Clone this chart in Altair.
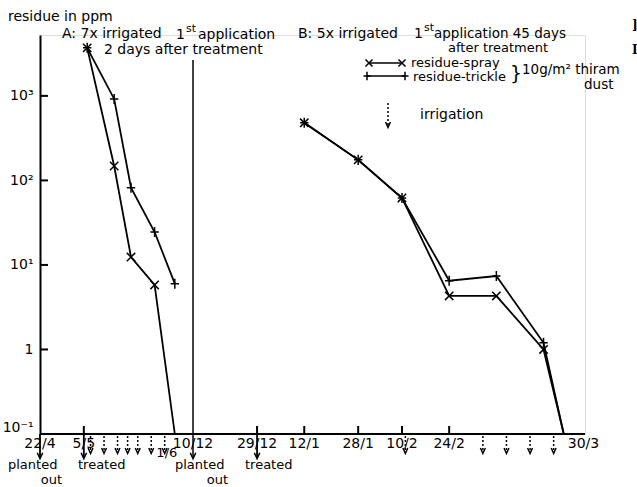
import altair as alt
import pandas as pd
from datetime import date

FONT = "DejaVu Sans"

# ---- data ----
a_dates = ["6/5", "14/5", "19/5", "26/5", "1/6"]
a_spray = [3700, 148, 12.4, 5.8, 0.1]
a_trickle = [3700, 920, 82, 24.5, 6.0]

b_dates = ["12/1", "28/1", "10/2", "24/2", "10/3", "24/3", "30/3"]
b_spray = [480, 175, 62, 4.3, 4.3, 1.0, 0.1]
b_trickle = [480, 175, 62, 6.5, 7.4, 1.2, 0.1]

a_irrigation = ["7/5", "11/5", "15/5", "18/5", "21/5", "25/5", "29/5"]
b_irrigation = ["11/2", "6/3", "13/3", "20/3", "27/3"]

a_tick_labels = ["22/4", "5/5", "1/6"]
b_tick_labels = ["10/12", "29/12", "12/1", "28/1", "10/2", "24/2", "30/3"]

y_tick_values = [0.1, 1, 10, 100, 1000]

GAP = 45.4      # axis position (days) of the break at 10/12
X_MAX = 161.7   # right end of the time axis in days
Y_MIN, Y_MAX = 0.1, 5250


def day_a(s):
    d, m = (int(v) for v in s.split("/"))
    return (date(1980, m, d) - date(1980, 4, 22)).days


def day_b(s):
    d, m = (int(v) for v in s.split("/"))
    y = 1980 if m == 12 else 1981
    return GAP + (date(y, m, d) - date(1980, 12, 10)).days


rows = []
for dates, vals, ser, panel, fn in [
    (a_dates, a_spray, "spray", "A", day_a),
    (a_dates, a_trickle, "trickle", "A", day_a),
    (b_dates, b_spray, "spray", "B", day_b),
    (b_dates, b_trickle, "trickle", "B", day_b),
]:
    for i, (d, v) in enumerate(zip(dates, vals)):
        rows.append({"day": fn(d), "val": v, "series": ser, "grp": panel + ser, "i": i})
df = pd.DataFrame(rows)
df_pts = df[df["val"] > 0.1]

irr = pd.DataFrame({"day": [day_a(d) for d in a_irrigation] + [day_b(d) for d in b_irrigation]})
ticks = pd.DataFrame({
    "day": [day_a(d) for d in a_tick_labels] + [day_b(d) for d in b_tick_labels],
    "label": a_tick_labels + b_tick_labels,
})

X = alt.X("day:Q", scale=alt.Scale(domain=[0, X_MAX], nice=False, zero=False), axis=None)
PATH_X = "M-1,-1L1,1M1,-1L-1,1"
PATH_PLUS = "M-1,0L1,0M0,-1.2L0,1.2"
PATH_HEAD = "M-1,-1.2L0,1L1,-1.2"
SHAPE_SCALE = alt.Scale(domain=["spray", "trickle"], range=[PATH_X, PATH_PLUS])

yaxis = alt.Axis(
    values=y_tick_values, tickSize=0, grid=False, title=None,
    domainColor="black", domainWidth=2, labelColor="black",
    labelFont=FONT, labelFontSize=14, labelPadding=7, labelFlush=True,
    labelExpr="datum.value >= 999 ? '10³' : datum.value >= 99 ? '10²' : datum.value >= 9 ? '10¹' : datum.value >= 0.9 ? '1' : '10⁻¹'",
)
Y = alt.Y("val:Q", scale=alt.Scale(type="log", domain=[Y_MIN, Y_MAX], nice=False), axis=yaxis)

lines = alt.Chart(df).mark_line(color="black", strokeWidth=1.8).encode(
    x=X, y=Y, detail="grp:N", order="i:Q"
)
points = alt.Chart(df_pts).mark_point(filled=False, color="black", strokeWidth=1.5, size=70, opacity=1).encode(
    x="day:Q", y="val:Q",
    shape=alt.Shape("series:N", scale=SHAPE_SCALE, legend=None),
)

# inward y ticks
ytick_df = pd.DataFrame({"val": y_tick_values})
yticks = alt.Chart(ytick_df).mark_rule(color="black", strokeWidth=2).encode(
    y="val:Q", x=alt.value(0), x2=alt.value(8)
)

# x axis line
xline = alt.Chart(pd.DataFrame({"a": [0]})).mark_rule(color="black", strokeWidth=2).encode(
    x=alt.value(0), x2=alt.value(545), y=alt.value(399)
)

# x tick labels
lab_main = ticks[~ticks["label"].isin(["1/6", "30/3"])]
xlabels = alt.Chart(lab_main).mark_text(font=FONT, fontSize=14, baseline="alphabetic", color="black").encode(
    x="day:Q", y=alt.value(413), text="label:N"
)
lab_16 = alt.Chart(ticks[ticks["label"] == "1/6"]).mark_text(font=FONT, fontSize=13, baseline="alphabetic", color="black", dx=-8).encode(
    x="day:Q", y=alt.value(422), text="label:N"
)
lab_303 = alt.Chart(ticks[ticks["label"] == "30/3"]).mark_text(font=FONT, fontSize=14, baseline="alphabetic", align="left", color="black", dx=4).encode(
    x="day:Q", y=alt.value(413), text="label:N"
)

# up ticks
up_df = ticks[ticks["label"].isin(["12/1", "28/1", "10/2", "24/2", "5/5", "29/12"])]
upticks = alt.Chart(up_df).mark_rule(color="black", strokeWidth=2).encode(
    x="day:Q", y=alt.value(391), y2=alt.value(399)
)

# solid arrows (planted out / treated)
arr_df = ticks[ticks["label"].isin(["22/4", "5/5", "29/12"])]
arrows = alt.Chart(arr_df).mark_rule(color="black", strokeWidth=1.8).encode(
    x="day:Q", y=alt.value(399), y2=alt.value(422)
)
sep = alt.Chart(ticks[ticks["label"] == "10/12"]).mark_rule(color="black", strokeWidth=1.5).encode(
    x="day:Q", y=alt.value(25), y2=alt.value(422)
)
heads = alt.Chart(ticks[ticks["label"].isin(["22/4", "5/5", "10/12", "29/12"])]).mark_point(
    shape=PATH_HEAD, filled=False, color="black", strokeWidth=1.5, size=30, opacity=1
).encode(x="day:Q", y=alt.value(421))

# irrigation arrows
irr_lines = alt.Chart(irr).mark_rule(color="black", strokeWidth=1.5, strokeDash=[2, 2]).encode(
    x="day:Q", y=alt.value(401), y2=alt.value(416)
)
irr_heads = alt.Chart(irr).mark_point(shape=PATH_HEAD, filled=False, color="black", strokeWidth=1.5, size=24, opacity=1).encode(
    x="day:Q", y=alt.value(416)
)


def txt(s, x, y, size=14, align="left", font=FONT, weight="normal"):
    return alt.Chart(pd.DataFrame({"t": [s]})).mark_text(
        align=align, baseline="alphabetic", fontSize=size, font=font, fontWeight=weight, color="black"
    ).encode(text="t:N", x=alt.value(x - 40), y=alt.value(y - 35))


texts = [
    txt("residue in ppm", 8, 21),
    txt("A: 7x irrigated", 62, 38),
    txt("1", 176, 39),
    txt("st", 186, 32, size=11),
    txt("application", 198, 39),
    txt("2 days after treatment", 104, 54),
    txt("B: 5x irrigated", 298, 38),
    txt("1", 414, 38),
    txt("st", 424, 31, size=11),
    txt("application  45 days", 434, 38, size=13.5),
    txt("after treatment", 448, 52, size=13),
    txt("residue-spray", 411, 67, size=13),
    txt("residue-trickle", 413, 81, size=13),
    txt("}", 510, 80, size=19),
    txt("10g/m² thiram", 522, 74, size=13.5),
    txt("dust", 584, 89, size=13.5),
    txt("irrigation", 420, 119),
    txt("planted", 8, 469, size=13),
    txt("out", 62, 484, size=13, align="right"),
    txt("treated", 78, 469, size=13),
    txt("planted", 175, 469, size=13),
    txt("out", 228, 484, size=13, align="right"),
    txt("treated", 245, 469, size=13),
    txt("]", 632, 29, size=12, font="DejaVu Serif", weight="bold"),
    txt("I", 632, 54, size=12, font="DejaVu Serif", weight="bold"),
]

# legend glyphs (pixel positions relative to the plot area)
leg_lines = alt.Chart(pd.DataFrame({"s": ["spray", "trickle"], "x1": [329, 327], "x2": [362, 365], "y": [28, 41]})).mark_rule(
    color="black", strokeWidth=1.5
).encode(x=alt.X("x1:Q", scale=None), x2="x2:Q", y=alt.Y("y:Q", scale=None))
leg_marks = alt.Chart(pd.DataFrame({"s": ["spray", "spray", "trickle", "trickle"], "x": [329, 362, 327, 365], "y": [28, 28, 41, 41]})).mark_point(
    filled=False, color="black", strokeWidth=1.5, size=50, opacity=1
).encode(
    x=alt.X("x:Q", scale=None), y=alt.Y("y:Q", scale=None),
    shape=alt.Shape("s:N", scale=SHAPE_SCALE, legend=None),
)
leg_irr = alt.Chart(pd.DataFrame({"a": [0]})).mark_rule(color="black", strokeWidth=1.5, strokeDash=[2, 2]).encode(
    x=alt.value(348), y=alt.value(68), y2=alt.value(90)
)
leg_irr_head = alt.Chart(pd.DataFrame({"a": [0]})).mark_point(shape=PATH_HEAD, filled=False, color="black", strokeWidth=1.5, size=24, opacity=1).encode(
    x=alt.value(348), y=alt.value(90)
)

chart = alt.layer(
    lines, points, yticks, xline, xlabels, lab_16, lab_303, upticks, arrows, sep, heads,
    irr_lines, irr_heads, *texts, leg_lines, leg_marks, leg_irr, leg_irr_head,
).resolve_scale(shape="shared").properties(
    width=545, height=399,
    autosize=alt.AutoSizeParams(type="none"),
    padding={"left": 40, "top": 35, "right": 52, "bottom": 53},
).configure_view(stroke=None).configure(font=FONT, background="white")

chart.save("out.html", embed_options={"renderer": "svg", "actions": False})
